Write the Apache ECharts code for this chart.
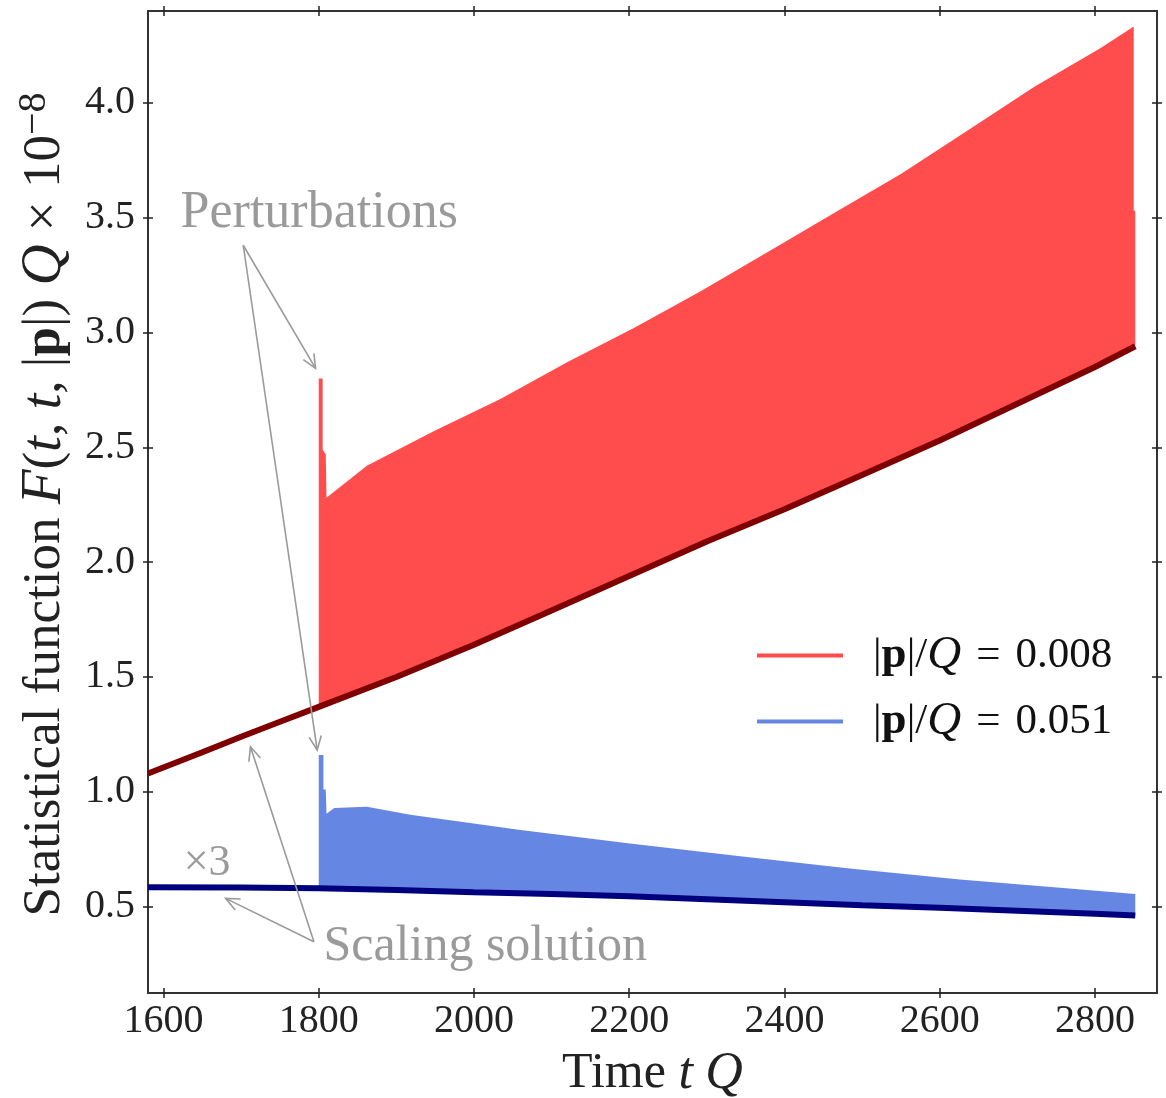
<!DOCTYPE html>
<html><head><meta charset="utf-8">
<script src="https://cdn.jsdelivr.net/npm/echarts@6/dist/echarts.min.js"></script>
<style>html,body{margin:0;padding:0;background:#fff}#c{width:1166px;height:1098px}</style>
</head><body><div id="c"></div>
<script>
// ---- data ----
const xTicks = [1600, 1800, 2000, 2200, 2400, 2600, 2800];
const yTicks = [0.5, 1.0, 1.5, 2.0, 2.5, 3.0, 3.5, 4.0];

// scaling solution, |p|/Q = 0.008 (dark red)
const redLineT = [1580, 1650, 1700, 1750, 1800, 1900, 2000, 2100, 2200, 2300, 2400, 2500, 2600, 2700, 2800, 2852];
const redLineV = [1.08, 1.172, 1.24, 1.305, 1.37, 1.50, 1.64, 1.79, 1.94, 2.09, 2.23, 2.38, 2.53, 2.69, 2.85, 2.94];
// upper envelope of the perturbed |p|/Q = 0.008 curve
const redTopT = [1800, 1800, 1805, 1805, 1809, 1810, 1862, 1948, 2034, 2120, 2206, 2292, 2378, 2464, 2550, 2636, 2722, 2808, 2849, 2850, 2850, 2852];
const redTopV = [1.37, 2.80, 2.80, 2.49, 2.47, 2.28, 2.42, 2.57, 2.71, 2.87, 3.02, 3.18, 3.35, 3.52, 3.69, 3.88, 4.07, 4.24, 4.33, 4.33, 3.53, 3.53];

// scaling solution, |p|/Q = 0.051 (navy, x3)
const blueLineT = [1580, 1700, 1800, 1900, 2000, 2100, 2200, 2300, 2400, 2500, 2600, 2700, 2800, 2852];
const blueLineV = [0.585, 0.583, 0.580, 0.572, 0.563, 0.555, 0.545, 0.532, 0.519, 0.506, 0.495, 0.482, 0.469, 0.461];
// upper envelope of the perturbed |p|/Q = 0.051 curve
const blueTopT = [1800, 1800, 1806, 1806, 1809, 1810, 1820, 1862, 1918, 2060, 2201, 2343, 2484, 2626, 2767, 2852];
const blueTopV = [0.58, 1.16, 1.16, 1.01, 1.01, 0.905, 0.93, 0.935, 0.90, 0.834, 0.775, 0.72, 0.666, 0.618, 0.579, 0.555];

const legendValues = ['0.008', '0.051'];

// annotations (data coordinates)
const annoTexts = ['Perturbations', 'Scaling solution', '×3'];
const annoAt = [[1622, 3.52], [1806, 0.324], [1626, 0.69]];
const arrowFrom = [[1702.7, 3.38], [1702.7, 3.38], [1793.8, 0.347], [1793.8, 0.347]];
const arrowTo = [[1795.9, 2.844], [1798, 1.182], [1712, 1.196], [1680, 0.536]];

// ---- styling ----
const FONT = 'Liberation Serif';
const RED = '#ff4c4c', DARKRED = '#7f0000', BLUE = '#6686e3', NAVY = '#00007f';
const XMIN = 1580, XMAX = 2880, YMIN = 0.124, YMAX = 4.40;

const zip = (a, b) => a.map((v, i) => [v, b[i]]);

function band(name, topT, topV, botT, botV, color) {
  return {
    type: 'custom', name: name, coordinateSystem: 'cartesian2d', xAxisIndex: 0, yAxisIndex: 0,
    itemStyle: { color: color }, z: 2, clip: true, silent: true,
    data: [[topT[0], topV[0]]],
    renderItem: function (params, api) {
      const pts = [];
      for (let i = 0; i < topT.length; i++) pts.push(api.coord([topT[i], topV[i]]));
      for (let i = botT.length - 1; i >= 0; i--) pts.push(api.coord([botT[i], botV[i]]));
      return { type: 'polygon', shape: { points: pts }, style: { fill: color } };
    }
  };
}
function sub(T, V, from) {
  const t = [], v = [];
  T.forEach((x, i) => { if (x >= from) { t.push(x); v.push(V[i]); } });
  return [t, v];
}
const [rbT, rbV] = sub(redLineT, redLineV, 1800);
const [bbT, bbV] = sub(blueLineT, blueLineV, 1800);

const tickStyle = { color: '#222', width: 1.5 };
const lineStyle = { color: '#333', width: 2 };
function xAxis(pos, inside, main) {
  return {
    type: 'value', position: pos, min: XMIN, max: XMAX, gridIndex: 0,
    axisLine: { show: true, onZero: false, lineStyle: lineStyle },
    axisTick: { show: true, inside: inside, length: 5, customValues: xTicks, lineStyle: tickStyle },
    axisLabel: main ? { show: true, customValues: xTicks, margin: 8, fontFamily: FONT, fontSize: 40, color: '#222',
      formatter: v => String(v) } : { show: false },
    splitLine: { show: false }
  };
}
function yAxis(pos, inside, main) {
  return {
    type: 'value', position: pos, min: YMIN, max: YMAX, gridIndex: 0,
    axisLine: { show: true, onZero: false, lineStyle: lineStyle },
    axisTick: { show: true, inside: inside, length: 5, customValues: yTicks, lineStyle: tickStyle },
    axisLabel: main ? { show: true, customValues: yTicks, margin: 13, fontFamily: FONT, fontSize: 40, color: '#222',
      formatter: v => v.toFixed(1) } : { show: false },
    splitLine: { show: false }
  };
}

const xa = [xAxis('bottom', false, true), xAxis('bottom', true, false), xAxis('top', true, false), xAxis('top', false, false)];
Object.assign(xa[0], {
  name: '{n|Time }{i|t}{n| }{i|Q}', nameLocation: 'middle', nameGap: 55,
  nameTextStyle: { color: '#222', rich: {
    n: { fontFamily: FONT, fontSize: 50, color: '#222' },
    i: { fontFamily: FONT, fontSize: 52, fontStyle: 'italic', color: '#222' } } }
});
const ya = [yAxis('left', false, true), yAxis('left', true, false), yAxis('right', true, false), yAxis('right', false, false)];
Object.assign(ya[0], {
  name: '{n|Statistical function }{i|F}{n|(}{i|t}{n|, }{i|t}{n|, |}{b|p}{n||) }{i|Q}{n| × 10}{s|−8}',
  nameLocation: 'middle', nameGap: 72,
  nameTextStyle: { color: '#222', rich: {
    n: { fontFamily: FONT, fontSize: 53, color: '#222', lineHeight: 62 },
    i: { fontFamily: FONT, fontSize: 57, fontStyle: 'italic', color: '#222', lineHeight: 62 },
    b: { fontFamily: FONT, fontSize: 53, fontWeight: 'bold', color: '#222', lineHeight: 62 },
    s: { fontFamily: FONT, fontSize: 40, color: '#222', lineHeight: 38, verticalAlign: 'top', padding: [0, 5, 0, 0] } } }
});

const chart = echarts.init(document.getElementById('c'), null, { renderer: 'canvas' });
chart.setOption({
  animation: false,
  backgroundColor: '#fff',
  grid: { left: 148, top: 11, width: 1009, height: 982, containLabel: false, outerBoundsMode: 'none' },
  xAxis: xa,
  yAxis: ya,
  legend: {
    orient: 'vertical', left: 752, top: 627, icon: 'rect', itemWidth: 86, itemHeight: 4, itemGap: 19,
    selectedMode: false,
    data: [{ name: 'p1', itemStyle: { color: RED } }, { name: 'p2', itemStyle: { color: BLUE } }],
    formatter: function (name) {
      const v = name === 'p1' ? legendValues[0] : legendValues[1];
      return '{g|}{n||}{b|p}{n||/}{i|Q}{sp|}{n|=}{sp|}{n|' + v + '}';
    },
    textStyle: { fontFamily: FONT, fontSize: 42, color: '#111', lineHeight: 44, rich: {
      g: { width: 25 },
      sp: { width: 15 },
      n: { fontFamily: FONT, fontSize: 43, color: '#111', lineHeight: 44 },
      b: { fontFamily: FONT, fontSize: 45, fontWeight: 'bold', color: '#111', lineHeight: 44 },
      i: { fontFamily: FONT, fontSize: 47, fontStyle: 'italic', color: '#111', lineHeight: 44 } } }
  },
  series: [
    band('p1', redTopT, redTopV, rbT, rbV, RED),
    { type: 'line', name: 'redScaling', data: zip(redLineT, redLineV), showSymbol: false, symbol: 'none', z: 3,
      lineStyle: { color: DARKRED, width: 6 }, itemStyle: { color: DARKRED }, silent: true },
    band('p2', blueTopT, blueTopV, bbT, bbV, BLUE),
    { type: 'line', name: 'blueScaling', data: zip(blueLineT, blueLineV), showSymbol: false, symbol: 'none', z: 3,
      lineStyle: { color: NAVY, width: 6 }, itemStyle: { color: NAVY }, silent: true }
  ]
});

// annotations placed through the chart's own coordinate conversion
const GRAY = '#9a9a9a';
const px = p => chart.convertToPixel({ xAxisIndex: 0, yAxisIndex: 0 }, p);
const graphics = [];
const sizes = [52, 50, 44];
annoTexts.forEach((txt, i) => {
  const p = px(annoAt[i]);
  graphics.push({ type: 'text', x: p[0], y: p[1], z: 50,
    style: { text: txt, fill: GRAY, font: sizes[i] + 'px "' + FONT + '"', textAlign: 'left', textVerticalAlign: 'middle' } });
});
arrowFrom.forEach((f, i) => {
  const a = px(f), b = px(arrowTo[i]);
  const ang = Math.atan2(b[1] - a[1], b[0] - a[0]);
  const L = 15, w = 0.42;
  const h1 = [b[0] - L * Math.cos(ang - w), b[1] - L * Math.sin(ang - w)];
  const h2 = [b[0] - L * Math.cos(ang + w), b[1] - L * Math.sin(ang + w)];
  graphics.push({ type: 'line', z: 50, shape: { x1: a[0], y1: a[1], x2: b[0], y2: b[1] }, style: { stroke: GRAY, lineWidth: 1.6 } });
  graphics.push({ type: 'polyline', z: 50, shape: { points: [h1, b, h2] }, style: { stroke: GRAY, lineWidth: 1.6, fill: null } });
});
chart.setOption({ graphic: graphics });
</script>
</body></html>
